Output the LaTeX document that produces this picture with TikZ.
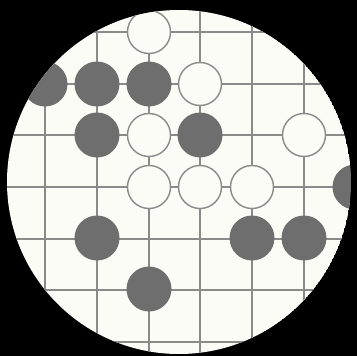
\documentclass[tikz,border=0pt]{standalone}
\begin{document}
\begin{tikzpicture}[x=1pt,y=-1pt,
  gridline/.style={draw=linegray,line width=1.3pt},
  blackstone/.style={circle,fill=stonegray,minimum size=45pt,inner sep=0pt},
  whitestone/.style={circle,fill=boardwhite,draw=linegray,line width=1.4pt,minimum size=43pt,inner sep=0pt}]
\definecolor{linegray}{RGB}{138,138,138}
\definecolor{stonegray}{RGB}{110,110,110}
\definecolor{boardwhite}{RGB}{252,252,247}
\fill[black] (0,0) rectangle (357,356);
\useasboundingbox (0,0) rectangle (357,356);
\begin{scope}
\clip (179,182) circle (172);
\fill[boardwhite] (179,182) circle (172);
% vertical lines
\foreach \x in {45,97,149,200,252,304}
  \draw[gridline] (\x,0) -- (\x,356);
% horizontal lines
\foreach \y in {32,84,135,187,239,290,342}
  \draw[gridline] (0,\y) -- (357,\y);
% white stones
\node[whitestone] (w1) at (149,32) {};
\node[whitestone] (w2) at (200,84) {};
\node[whitestone] (w3) at (149,135) {};
\node[whitestone] (w4) at (304,135) {};
\node[whitestone] (w5) at (149,187) {};
\node[whitestone] (w6) at (200,187) {};
\node[whitestone] (w7) at (252,187) {};
% dark stones
\node[blackstone] (b1) at (45,84) {};
\node[blackstone] (b2) at (97,84) {};
\node[blackstone] (b3) at (149,84) {};
\node[blackstone] (b4) at (97,135) {};
\node[blackstone] (b5) at (200,135) {};
\node[blackstone] (b6) at (355,187) {};
\node[blackstone] (b7) at (97,238) {};
\node[blackstone] (b8) at (252,238) {};
\node[blackstone] (b9) at (304,238) {};
\node[blackstone] (b10) at (149,289) {};
\end{scope}
\end{tikzpicture}
\end{document}
